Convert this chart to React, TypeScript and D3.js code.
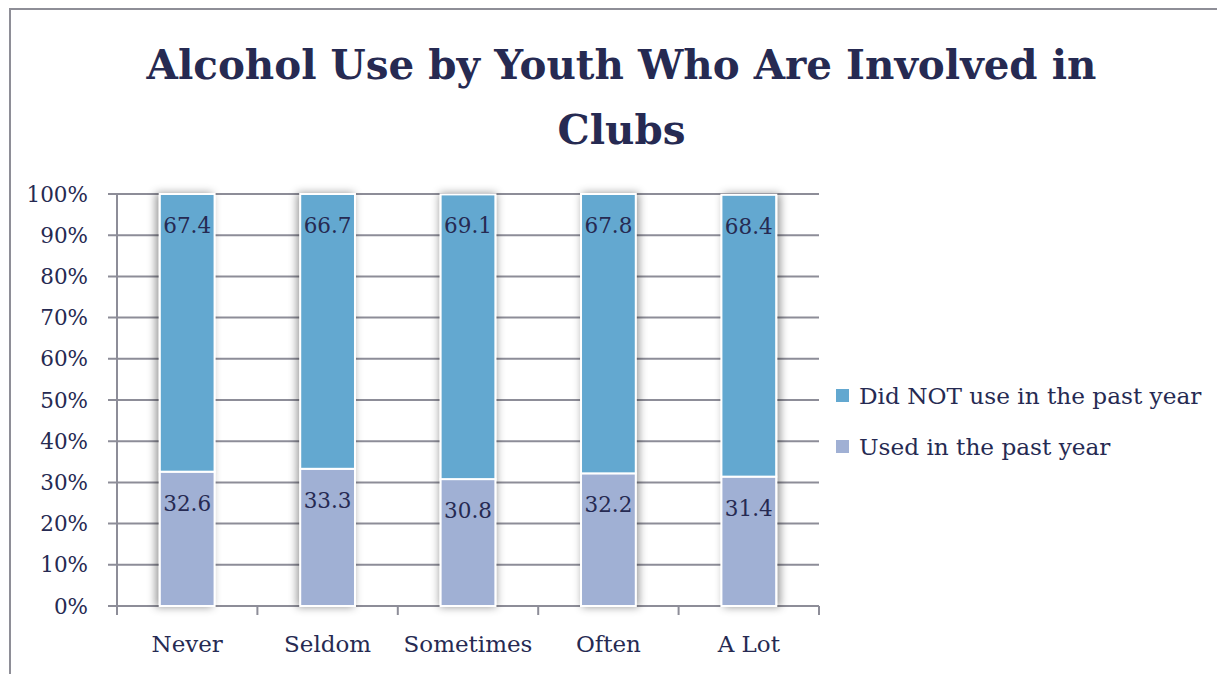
import React, { useLayoutEffect, useRef, useState } from "react";
import * as d3 from "d3";

const categories = ["Never", "Seldom", "Sometimes", "Often", "A Lot"];
const usedValues = [32.6, 33.3, 30.8, 32.2, 31.4];
const notUsedValues = [67.4, 66.7, 69.1, 67.8, 68.4];
const seriesNames = ["Did NOT use in the past year", "Used in the past year"];
const yTicks = [0, 10, 20, 30, 40, 50, 60, 70, 80, 90, 100];
const titleLines = ["Alcohol Use by Youth Who Are Involved in", "Clubs"];

const W = 1217;
const H = 674;
const plot = { left: 117, right: 819, top: 194, bottom: 606 };
const textColor = "#262a52";
const gridColor = "#8d8d98";
const blue = "#63a8d0";
const lav = "#a0b0d4";
const font = "'DejaVu Serif', serif";

export default function App() {
  const titleRef = useRef<SVGTextElement | null>(null);
  const [titleSize, setTitleSize] = useState(44);

  useLayoutEffect(() => {
    const el = titleRef.current;
    if (!el) return;
    const len = el.getComputedTextLength();
    if (len > 0) {
      const target = 950;
      const s = (titleSize * target) / len;
      if (Math.abs(s - titleSize) > 0.2) setTitleSize(Math.min(48, s));
    }
  }, [titleSize]);

  const x = d3
    .scaleBand<string>()
    .domain(categories)
    .range([plot.left, plot.right])
    .paddingInner(0.61)
    .paddingOuter(0.305);
  const xOuter = d3.scaleBand<string>().domain(categories).range([plot.left, plot.right]);
  const y = d3.scaleLinear().domain([0, 100]).range([plot.bottom, plot.top]);

  const rows = categories.map((c, i) => ({ cat: c, used: usedValues[i], not: notUsedValues[i] }));
  const stack = d3.stack<any>().keys(["used", "not"])(rows as any);
  const colors: Record<string, string> = { used: lav, not: blue };
  const shadowDx = [-3, -2, 0, 2, 3];

  const boundaries = categories.map((c) => xOuter(c) as number).concat([plot.right]);

  return (
    <svg
      width={W}
      height={H}
      style={{ position: "absolute", left: 0, top: 0, background: "#fff" }}
      fontFamily={font}
    >
      <defs>
        {shadowDx.map((dx, i) => (
          <filter key={i} id={`sh${i}`} x="-50%" y="-10%" width="200%" height="120%">
            <feGaussianBlur in="SourceAlpha" stdDeviation="4.5" result="b" />
            <feOffset in="b" dx={dx} dy="0" result="o" />
            <feFlood floodColor="#000" floodOpacity="0.42" />
            <feComposite in2="o" operator="in" result="s" />
            <feMerge>
              <feMergeNode in="s" />
              <feMergeNode in="SourceGraphic" />
            </feMerge>
          </filter>
        ))}
      </defs>
      <rect x={0} y={0} width={W} height={H} fill="#fff" />
      {/* outer border */}
      <rect x={10} y={9} width={W + 20} height={H + 20} fill="none" stroke="#8e8e97" strokeWidth={2} />

      {/* title */}
      {titleLines.map((t, i) => (
        <text
          key={i}
          ref={i === 0 ? titleRef : undefined}
          x={621.5}
          y={79 + i * 65}
          textAnchor="middle"
          fontWeight="bold"
          fontSize={titleSize}
          fill={textColor}
        >
          {t}
        </text>
      ))}

      {/* gridlines */}
      {yTicks.map((t) => (
        <line
          key={t}
          x1={plot.left - 9}
          x2={plot.right}
          y1={y(t)}
          y2={y(t)}
          stroke={gridColor}
          strokeWidth={2}
        />
      ))}
      {/* y axis */}
      <line x1={plot.left} x2={plot.left} y1={plot.top} y2={plot.bottom} stroke={gridColor} strokeWidth={2} />
      {/* x ticks */}
      {boundaries.map((b, i) => (
        <line key={i} x1={b} x2={b} y1={plot.bottom} y2={plot.bottom + 9} stroke={gridColor} strokeWidth={2} />
      ))}

      {/* y tick labels */}
      {yTicks.map((t) => (
        <text key={t} x={88} y={y(t) + 7.5} textAnchor="end" fontSize={21.5} fill={textColor}>
          {t}%
        </text>
      ))}

      {/* bars */}
      {rows.map((r, i) => (
        <g key={r.cat} filter={`url(#sh${i})`}>
          {stack.map((s) => {
            const d = s[i];
            return (
              <rect
                key={s.key}
                x={x(r.cat)}
                width={x.bandwidth()}
                y={y(d[1])}
                height={y(d[0]) - y(d[1])}
                fill={colors[s.key]}
                stroke="#fff"
                strokeWidth={2}
              />
            );
          })}
        </g>
      ))}

      {/* data labels */}
      {rows.map((r, ri) =>
        stack.map((s, si) => {
          const d = s[ri];
          const val = si === 0 ? r.used : r.not;
          return (
            <text
              key={r.cat + s.key}
              x={(x(r.cat) as number) + x.bandwidth() / 2}
              y={y(d[1]) + 39}
              textAnchor="middle"
              fontSize={21.5}
              fill={textColor}
            >
              {val.toFixed(1)}
            </text>
          );
        })
      )}

      {/* x labels */}
      {categories.map((c) => (
        <text
          key={c}
          x={(xOuter(c) as number) + xOuter.bandwidth() / 2}
          y={652}
          textAnchor="middle"
          fontSize={23}
          fill={textColor}
        >
          {c}
        </text>
      ))}

      {/* legend */}
      {seriesNames.map((n, i) => (
        <g key={n} transform={`translate(836, ${389 + i * 51})`}>
          <rect x={0} y={0} width={13} height={13} fill={i === 0 ? blue : lav} />
          <text x={23} y={15} fontSize={23.2} fill={textColor}>
            {n}
          </text>
        </g>
      ))}
    </svg>
  );
}
